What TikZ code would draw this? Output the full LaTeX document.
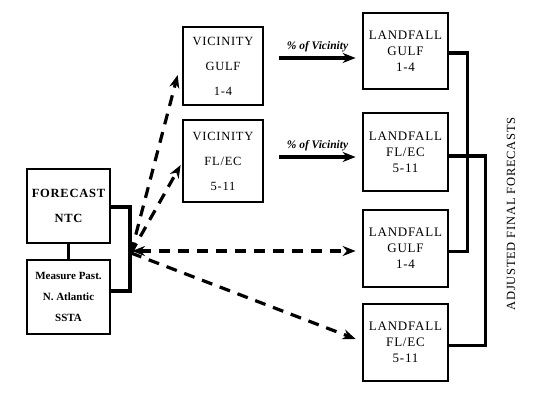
\documentclass[tikz,border=0pt]{standalone}
\usepackage{fontspec}
\setmainfont{Liberation Serif}
\newfontfamily\boxfont[LetterSpace=6]{Liberation Serif}
\usetikzlibrary{arrows.meta,calc}
\begin{document}
\begin{tikzpicture}[x=1pt,y=-1pt,
  box/.style={draw,line width=2.7pt,rectangle,inner sep=0pt,align=center},
  conn/.style={line width=3.2pt},
  tip/.style={},
  dasharrow/.style={line width=3.2pt,dash pattern=on 11pt off 8pt,-{Stealth[length=13pt,width=10pt]}},
  solidarrow/.style={line width=3.2pt,-{Stealth[length=13pt,width=10pt]}},
  lbl/.style={font=\fontsize{11.5}{12}\selectfont\bfseries\itshape,inner sep=0pt}
]
\useasboundingbox (0,0) rectangle (537,403);
% left boxes
\node[box,minimum width=83pt,minimum height=74pt,font=\boxfont\fontsize{12.5}{25}\selectfont\bfseries] (fc) at (68.5,206) {FORECAST\\NTC};
\node[box,minimum width=83pt,minimum height=74pt,font=\fontsize{11}{21}\selectfont\bfseries] (ms) at (68.5,297) {Measure Past.\\N. Atlantic\\SSTA};
% vicinity boxes
\node[box,minimum width=80pt,minimum height=78pt,font=\boxfont\fontsize{12.5}{25}\selectfont] (vg) at (223,66) {VICINITY\\GULF\\1-4};
\node[box,minimum width=80pt,minimum height=82pt,font=\boxfont\fontsize{12.5}{25}\selectfont] (vf) at (223,161) {VICINITY\\FL/EC\\5-11};
% landfall boxes
\node[box,minimum width=85pt,minimum height=76pt,font=\boxfont\fontsize{13}{16}\selectfont] (l1) at (405.5,51) {LANDFALL\\GULF\\1-4};
\node[box,minimum width=85pt,minimum height=78pt,font=\boxfont\fontsize{13}{16}\selectfont] (l2) at (405.5,152) {LANDFALL\\FL/EC\\5-11};
\node[box,minimum width=85pt,minimum height=77pt,font=\boxfont\fontsize{13}{16}\selectfont] (l3) at (405.5,248.5) {LANDFALL\\GULF\\1-4};
\node[box,minimum width=85pt,minimum height=77pt,font=\boxfont\fontsize{13}{16}\selectfont] (l4) at (405.5,342.5) {LANDFALL\\FL/EC\\5-11};
% bracket on left
\coordinate (bt) at (130,207);
\coordinate (bb) at (130,291);
\coordinate (o) at (131,253);
\draw[line width=2.4pt] (fc.south) -- (ms.north);
\draw[conn] (fc.east |- bt) -- (bt) -- (bb) -- (ms.east |- bb);
% dashed arrows
\draw[dasharrow] (o) -- ($(vg.west)+(-4,9)$);
\draw[dasharrow] (o) -- ($(vf.west)+(-1,4)$);
\draw[dasharrow,{Stealth[length=13pt,width=10pt]}-{Stealth[length=13pt,width=10pt]}] ($(o)+(1,-2)$) -- ($(l3.west)+(-6,2.5)$);
\draw[dasharrow] (o) -- ($(l4.west)+(-6,-3.5)$);
% solid arrows
\draw[solidarrow] ($(vg.east)+(15,-8)$) coordinate (a1s) -- ($(l1.west)+(-6,7)$) coordinate (a1e);
\draw[solidarrow] ($(vf.east)+(15,-4)$) coordinate (a2s) -- ($(l2.west)+(-6,5)$) coordinate (a2e);
\node[lbl] (t1) at ($(a1s)!0.5!(a1e)+(0,-11)$) {\% of Vicinity};
\node[lbl] (t2) at ($(a2s)!0.5!(a2e)+(0,-11)$) {\% of Vicinity};
% right connectors
\draw[conn] ($(l1.east)+(0,2)$) -- ++(18,0) |- ($(l3.east)+(0,3)$);
\draw[conn] ($(l2.east)+(0,4)$) -- ++(36,0) |- ($(l4.east)+(0,3)$);
\node[rotate=90,font=\boxfont\fontsize{12.5}{14}\selectfont,inner sep=0pt] (adj) at (511,214) {ADJUSTED FINAL FORECASTS};
\end{tikzpicture}
\end{document}
